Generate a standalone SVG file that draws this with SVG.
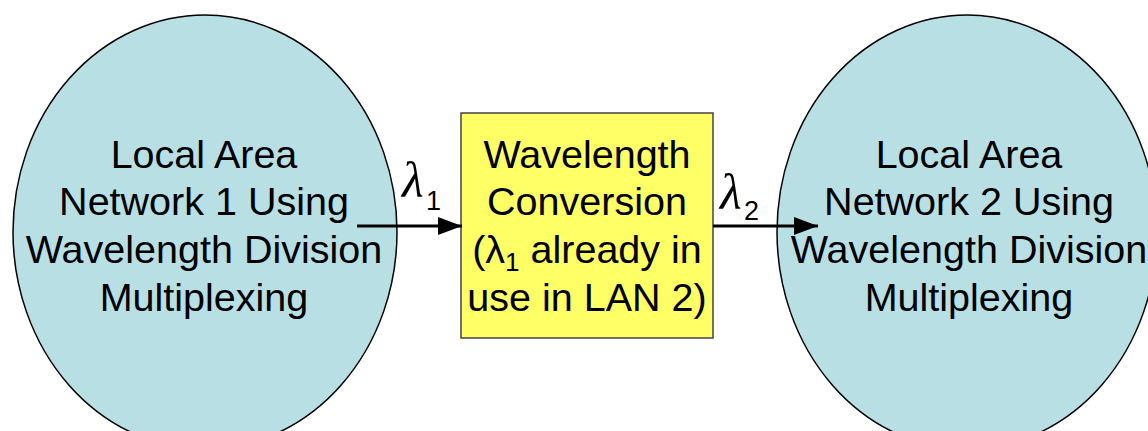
<svg xmlns="http://www.w3.org/2000/svg" width="1148" height="431" viewBox="0 0 1148 431">
<style>
.lan{fill:#b8dfe3;stroke:#000;stroke-width:1.5}
.box{fill:#ffff66;stroke:#444;stroke-width:1.5}
.t{font-family:"Liberation Sans",Arial,sans-serif;font-size:39.5px;fill:#000;text-anchor:middle}
.lam{font-family:"Liberation Serif","Times New Roman",serif;font-style:italic;font-size:50px;fill:#000}
.sub{font-family:"Liberation Sans",Arial,sans-serif;font-size:27px;fill:#000}
.conn{stroke:#000;stroke-width:3;fill:none}
</style>
<defs>
<marker id="arrow" markerWidth="24" markerHeight="18" refX="24" refY="9" orient="auto" markerUnits="userSpaceOnUse">
<path d="M0,0 L24,9 L0,18 Z" fill="#000"/>
</marker>
</defs>
<g id="lan1">
<ellipse class="lan" cx="205" cy="232" rx="192" ry="217"/>
<text class="t" x="204" y="168">Local Area</text>
<text class="t" x="204" y="215">Network 1 Using</text>
<text class="t" x="204" y="263">Wavelength Division</text>
<text class="t" x="204" y="311">Multiplexing</text>
</g>
<g id="lan2">
<ellipse class="lan" cx="967" cy="232" rx="190" ry="217"/>
<text class="t" x="969" y="168">Local Area</text>
<text class="t" x="969" y="215">Network 2 Using</text>
<text class="t" x="969" y="263">Wavelength Division</text>
<text class="t" x="969" y="311">Multiplexing</text>
</g>
<g id="converter">
<rect class="box" x="461" y="113" width="252" height="225"/>
<text class="t" x="587" y="168">Wavelength</text>
<text class="t" x="587" y="215">Conversion</text>
<text class="t" x="587" y="263">(λ<tspan font-size="26" dy="8">1</tspan><tspan dy="-8"> already in</tspan></text>
<text class="t" x="587" y="311">use in LAN 2)</text>
</g>
<g id="connectors">
<line class="conn" x1="357" y1="226" x2="462" y2="226" marker-end="url(#arrow)"/>
<line class="conn" x1="713" y1="226" x2="818" y2="226" marker-end="url(#arrow)"/>
<text class="lam" x="402" y="197">λ</text>
<text class="sub" x="426" y="210">1</text>
<text class="lam" x="720" y="209">λ</text>
<text class="sub" x="744" y="220">2</text>
</g>
</svg>
